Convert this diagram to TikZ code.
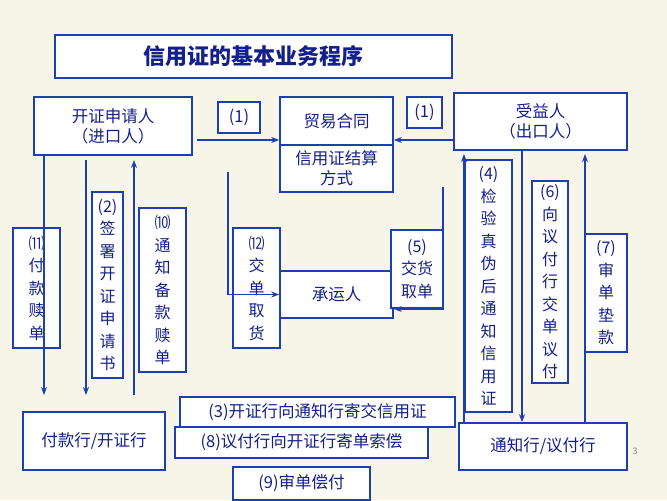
\documentclass[tikz,border=0pt]{standalone}
\usepackage{fontspec}
\setmainfont{Noto Sans CJK SC}
\usetikzlibrary{arrows.meta}
\definecolor{bl}{HTML}{1E3FAE}
\definecolor{tx}{HTML}{14208A}
\begin{document}
\begin{tikzpicture}[x=1pt,y=-1pt,
 box/.style={draw=bl,line width=1.6pt,fill=white,text=tx,inner sep=0pt,font=\fontsize{16.5}{20}\selectfont,align=center},
 vbox/.style={box,font=\fontsize{16}{22.5}\selectfont},
 arr/.style={draw=bl,line width=1.4pt,-{Stealth[length=8pt,width=6pt]}},
 ln/.style={draw=bl,line width=1.4pt}]
\fill[color={rgb,255:red,247;green,244;blue,232}] (0,0) rectangle (667,500);
\node[box,minimum width=397pt,minimum height=43pt,font=\fontsize{22}{26}\selectfont\bfseries] (title) at (253.5,56.5) {信用证的基本业务程序};
\node[box,minimum width=158pt,minimum height=58pt] (app) at (113,126) {开证申请人\\（进口人）};
\node[box,minimum width=42pt,minimum height=31pt] (p1a) at (239,117.5) {(1)};
\node[box,minimum width=113pt,minimum height=48pt] (trade) at (336.5,121) {贸易合同};
\node[box,minimum width=113pt,minimum height=47pt] (lc) at (336.5,168.5) {信用证结算\\方式};
\node[box,minimum width=35pt,minimum height=31pt] (p1b) at (424.5,112.5) {(1)};
\node[box,minimum width=173pt,minimum height=57pt] (ben) at (540.5,121.5) {受益人\\（出口人）};
\node[box,minimum width=142pt,minimum height=58pt] (bank) at (94,441) {付款行/开证行};
\node[box,minimum width=113pt,minimum height=47pt] (carrier) at (336.5,294.5) {承运人};
\node[box,minimum width=168pt,minimum height=47pt] (notify) at (543,446.5) {通知行/议付行};
% vertical label boxes
\node[vbox,minimum width=47pt,minimum height=120pt] (b11) at (36.5,288) {⑾\\付\\款\\赎\\单};
\node[vbox,minimum width=31pt,minimum height=186pt] (b2) at (107.5,285) {(2)\\签\\署\\开\\证\\申\\请\\书};
\node[vbox,minimum width=47pt,minimum height=164pt] (b10) at (162.5,290) {⑽\\通\\知\\备\\款\\赎\\单};
\node[vbox,minimum width=47pt,minimum height=120pt] (b12) at (256.5,288) {⑿\\交\\单\\取\\货};
\node[vbox,minimum width=52pt,minimum height=78pt] (b5) at (417,269) {(5)\\交货\\取单};
\node[vbox,minimum width=47pt,minimum height=252pt] (b4) at (488.5,286) {(4)\\检\\验\\真\\伪\\后\\通\\知\\信\\用\\证};
\node[vbox,minimum width=36pt,minimum height=202pt] (b6) at (550,282) {(6)\\向\\议\\付\\行\\交\\单\\议\\付};
\node[vbox,minimum width=42pt,minimum height=118pt] (b7) at (606,293) {(7)\\审\\单\\垫\\款};
\node[box,minimum width=275pt,minimum height=30pt] (b3) at (317.5,412) {(3)开证行向通知行寄交信用证};
\node[box,minimum width=253pt,minimum height=31pt] (b8) at (301.5,442.5) {(8)议付行向开证行寄单索偿};
\node[box,minimum width=137pt,minimum height=33pt] (b9) at (301.5,483.5) {(9)审单偿付};
\node[text=gray,font=\fontsize{9}{9}\selectfont] (pg) at (635,451) {3};
% arrows
\draw[arr] (197,140) -- (trade.west |- 0,140);
\draw[arr] (ben.west |- 0,140) -- (trade.east |- 0,140);
\coordinate (a11) at (44,155); \coordinate (e11) at (44,395);
\coordinate (a2) at (86,160); \coordinate (e2) at (86,395);
\coordinate (a10) at (134,395); \coordinate (e10) at (134,160);
\draw[arr] (a11) -- (e11);
\draw[arr] (a2) -- (e2);
\draw[arr] (a10) -- (e10);
\coordinate (a12) at (228,172);
\draw[arr] (a12) |- (carrier.west);
\coordinate (a5) at (443,187);
\draw[arr] (a5) -- (443,309) -- (carrier.east |- 0,309);
\draw[arr] (notify.north -| 464,0) -- (464,154);
\draw[arr] (ben.south -| 522,0) -- (notify.north -| 522,0);
\draw[arr] (notify.north -| 585,0) -- (585,154);
\end{tikzpicture}
\end{document}
